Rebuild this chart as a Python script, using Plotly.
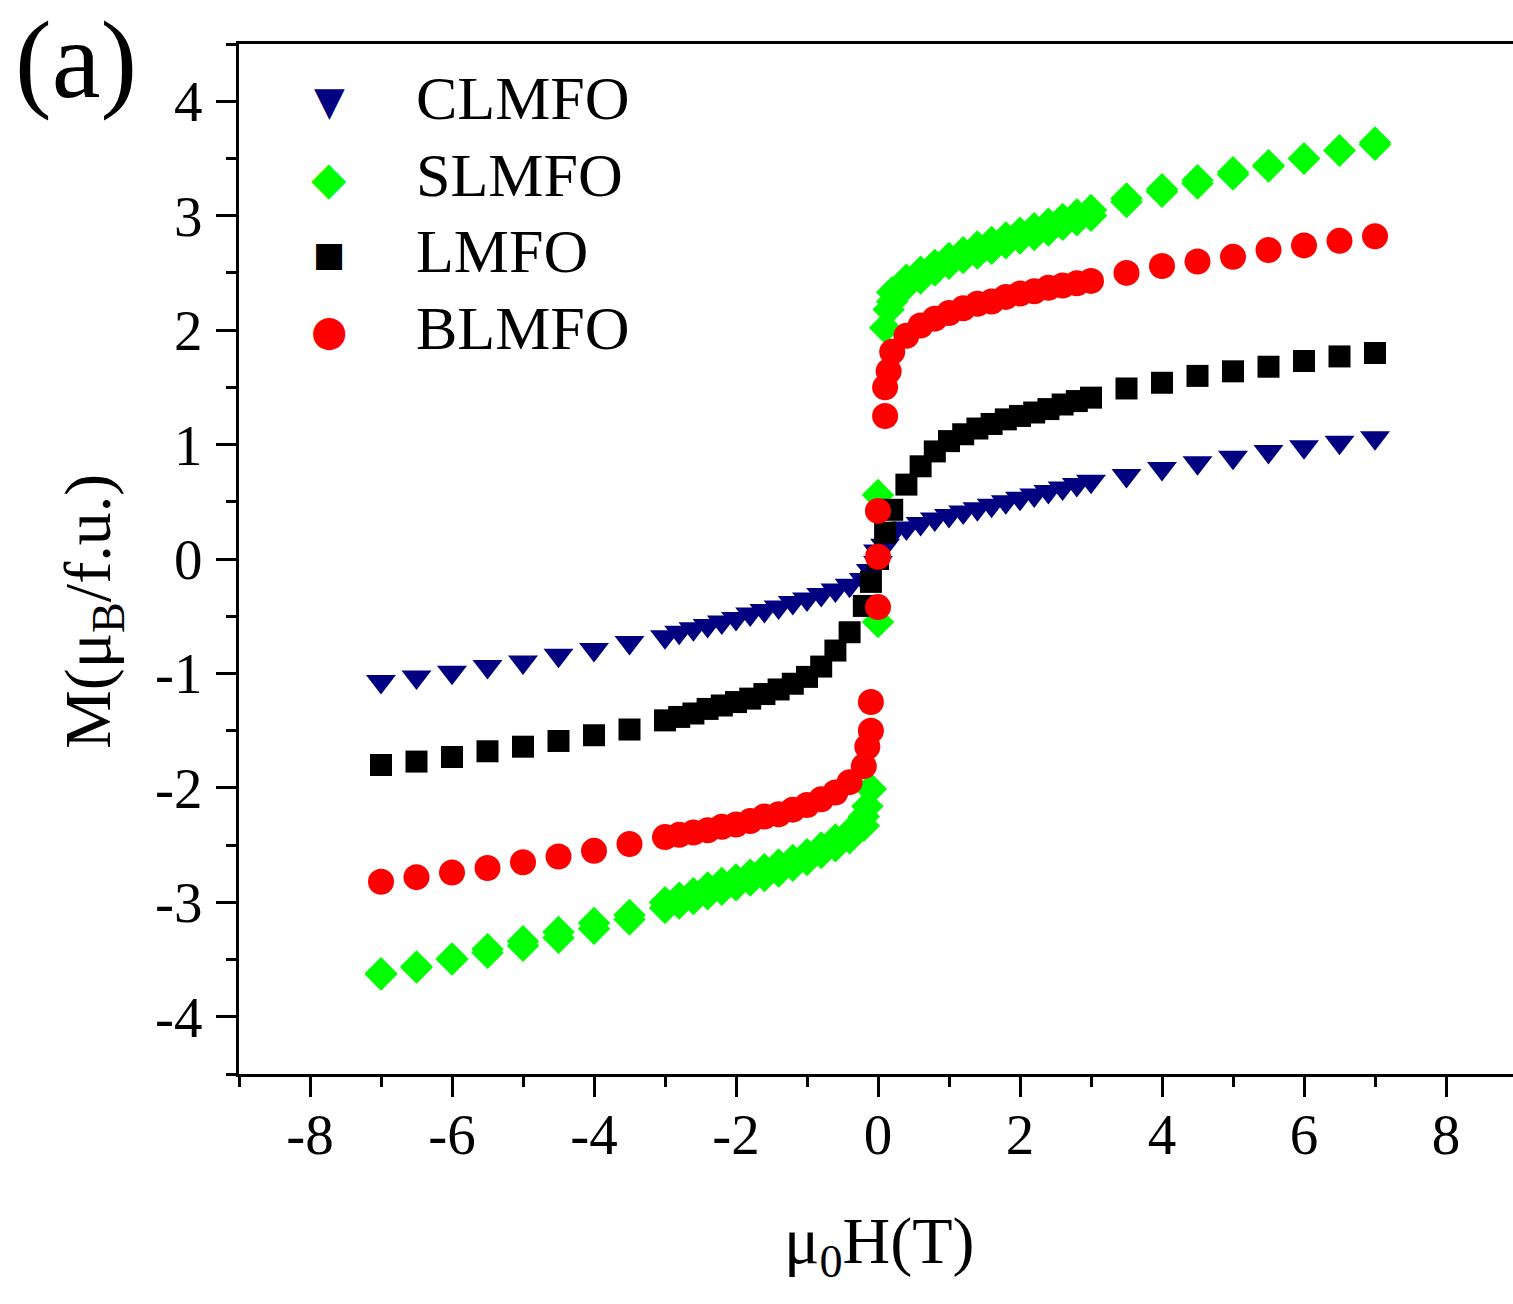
import plotly.graph_objects as go

# Applied field grids (T)
field_neg = [-7.0, -6.5, -6.0, -5.5, -5.0, -4.5, -4.0, -3.5,
             -3.0, -2.8, -2.6, -2.4, -2.2, -2.0, -1.8, -1.6, -1.4, -1.2,
             -1.0, -0.8, -0.6, -0.4, -0.2]
field_pos = [0.2, 0.4, 0.6, 0.8, 1.0, 1.2, 1.4, 1.6, 1.8, 2.0, 2.2, 2.4,
             2.6, 2.8, 3.0, 3.5, 4.0, 4.5, 5.0, 5.5, 6.0, 6.5, 7.0]

# CLMFO
clmfo_neg = [-1.07, -1.03, -0.99, -0.94, -0.90, -0.84, -0.79, -0.73,
             -0.68, -0.64, -0.61, -0.58, -0.55, -0.52, -0.48, -0.45, -0.42, -0.38,
             -0.35, -0.31, -0.27, -0.23, -0.18]
clmfo_pos = [0.22, 0.27, 0.31, 0.35, 0.38, 0.41, 0.44, 0.47, 0.50, 0.53, 0.56, 0.59,
             0.62, 0.65, 0.68, 0.73, 0.79, 0.84, 0.89, 0.94, 0.98, 1.02, 1.06]
clmfo_h0 = [-0.1, 0.0, 0.0, 0.1]
clmfo_m0 = [-0.10, -0.03, 0.07, 0.12]

# SLMFO (two sweep branches)
slmfo_neg_a = [-3.63, -3.56, -3.49, -3.41, -3.34, -3.26, -3.18, -3.11,
               -3.00, -2.96, -2.92, -2.87, -2.83, -2.80, -2.76, -2.71, -2.67, -2.63,
               -2.58, -2.52, -2.45, -2.39, -2.25]
slmfo_pos_a = [2.25, 2.39, 2.45, 2.52, 2.58, 2.63, 2.67, 2.71, 2.76, 2.80, 2.83, 2.87,
               2.92, 2.96, 3.00, 3.12, 3.21, 3.28, 3.36, 3.43, 3.50, 3.57, 3.64]
slmfo_neg_b = [-3.62, -3.57, -3.50, -3.44, -3.38, -3.31, -3.23, -3.15,
               -3.05, -3.01, -2.97, -2.93, -2.89, -2.85, -2.81, -2.77, -2.73, -2.68,
               -2.63, -2.57, -2.51, -2.44, -2.33]
slmfo_pos_b = [2.33, 2.44, 2.51, 2.57, 2.63, 2.68, 2.73, 2.77, 2.81, 2.85, 2.89, 2.93,
               2.97, 3.01, 3.05, 3.15, 3.23, 3.31, 3.38, 3.44, 3.50, 3.57, 3.62]
slmfo_h0 = [-0.15, -0.1, 0.0, 0.0, 0.1, 0.15]
slmfo_m0 = [-2.16, -2.01, -0.55, 0.56, 2.02, 2.18]

# LMFO
lmfo_neg = [-1.80, -1.77, -1.73, -1.68, -1.64, -1.59, -1.54, -1.49,
            -1.41, -1.38, -1.35, -1.31, -1.28, -1.25, -1.22, -1.18, -1.14, -1.09,
            -1.03, -0.94, -0.80, -0.64, -0.41]
lmfo_pos = [0.43, 0.65, 0.81, 0.94, 1.03, 1.09, 1.14, 1.18, 1.22, 1.25, 1.28, 1.31,
            1.35, 1.38, 1.41, 1.49, 1.54, 1.60, 1.64, 1.68, 1.73, 1.77, 1.80]
lmfo_h0 = [-0.1, 0.0, 0.1]
lmfo_m0 = [-0.20, 0.0, 0.23]

# BLMFO
blmfo_neg = [-2.82, -2.78, -2.74, -2.70, -2.65, -2.60, -2.55, -2.49,
             -2.43, -2.41, -2.39, -2.37, -2.34, -2.32, -2.29, -2.25, -2.23, -2.19,
             -2.15, -2.10, -2.04, -1.95, -1.81]
blmfo_pos = [1.81, 1.95, 2.04, 2.10, 2.15, 2.19, 2.23, 2.25, 2.29, 2.32, 2.34, 2.37,
             2.39, 2.41, 2.43, 2.50, 2.56, 2.60, 2.64, 2.70, 2.74, 2.78, 2.82]
blmfo_h0 = [-0.15, -0.1, -0.1, 0.0, 0.0, 0.0, 0.1, 0.1, 0.15]
blmfo_m0 = [-1.64, -1.50, -1.25, -0.42, 0.02, 0.42, 1.25, 1.50, 1.64]

x_tick_vals = [-8, -6, -4, -2, 0, 2, 4, 6, 8]
x_tick_text = ["-8", "-6", "-4", "-2", "0", "2", "4", "6", "8"]
y_tick_vals = [-4, -3, -2, -1, 0, 1, 2, 3, 4]
y_tick_text = ["-4", "-3", "-2", "-1", "0", "1", "2", "3", "4"]

series_names = ["CLMFO", "SLMFO", "LMFO", "BLMFO"]
series_colors = ["#000080", "#00ff00", "#000000", "#ff0000"]
series_symbols = ["triangle-down", "diamond", "square", "circle"]
series_sizes = [26, 25, 22, 26]
legend_glyphs = ["\u25BC", "\u25C6", "\u25A0", "\u25CF"]
legend_glyph_sizes = [40, 46, 34, 42]

series_x = [
    field_neg + clmfo_h0 + field_pos,
    field_neg + slmfo_h0 + field_pos + field_neg + field_pos,
    field_neg + lmfo_h0 + field_pos,
    field_neg + blmfo_h0 + field_pos,
]
series_y = [
    clmfo_neg + clmfo_m0 + clmfo_pos,
    slmfo_neg_a + slmfo_m0 + slmfo_pos_a + slmfo_neg_b + slmfo_pos_b,
    lmfo_neg + lmfo_m0 + lmfo_pos,
    blmfo_neg + blmfo_m0 + blmfo_pos,
]

W, H = 1513, 1304
L, R, T, B = 239, 0, 44, 230
PW, PH = W - L - R, H - T - B

SERIF = "Liberation Serif, Times New Roman, serif"

fig = go.Figure()
for name, xs, ys, col, sym, sz in zip(series_names, series_x, series_y,
                                      series_colors, series_symbols, series_sizes):
    fig.add_trace(go.Scatter(
        x=xs, y=ys, mode="markers", name=name, showlegend=False,
        marker=dict(symbol=sym, size=sz, color=col, line=dict(width=0)),
    ))


def px_to_paper(px, py):
    return (px - L) / PW, (H - B - py) / PH


annotations = []
# legend built from glyph + label text
legend_rows = [101, 178, 254, 331]
for glyph, gsz, col, name, row in zip(legend_glyphs, legend_glyph_sizes,
                                      series_colors, series_names, legend_rows):
    gx, gy = px_to_paper(329, row)
    annotations.append(dict(
        x=gx, y=gy, xref="paper", yref="paper", text=glyph, showarrow=False,
        xanchor="center", yanchor="middle",
        font=dict(family="DejaVu Sans", size=gsz, color=col),
    ))
    tx, ty = px_to_paper(414, row - 3)
    annotations.append(dict(
        x=tx, y=ty, xref="paper", yref="paper", text=name, showarrow=False,
        xanchor="left", yanchor="middle",
        font=dict(family=SERIF, size=62, color="black"),
    ))

# panel tag
ax_, ay_ = px_to_paper(76, 60)
annotations.append(dict(
    x=ax_, y=ay_, xref="paper", yref="paper", text="(a)", showarrow=False,
    xanchor="center", yanchor="middle",
    font=dict(family=SERIF, size=110, color="black"),
))

# axis titles
xt, yt = px_to_paper(879, 1245)
annotations.append(dict(
    x=xt, y=yt, xref="paper", yref="paper", text="\u03bc<sub>0</sub>H(T)",
    showarrow=False, xanchor="center", yanchor="middle",
    font=dict(family=SERIF, size=66, color="black"),
))
xt, yt = px_to_paper(92, 612)
annotations.append(dict(
    x=xt, y=yt, xref="paper", yref="paper", text="M(\u03bc<sub>B</sub>/f.u.)",
    showarrow=False, xanchor="center", yanchor="middle", textangle=-90,
    font=dict(family=SERIF, size=66, color="black"),
))

fig.update_layout(
    width=W, height=H,
    margin=dict(l=L, r=R, t=T, b=B, pad=0),
    paper_bgcolor="white", plot_bgcolor="white",
    showlegend=False,
    annotations=annotations,
    xaxis=dict(
        range=[-9, -9 + PW / 71.0], showgrid=False, zeroline=False,
        showline=True, linecolor="black", linewidth=3, mirror=True,
        ticks="outside", ticklen=20, tickwidth=3, tickcolor="black",
        tickvals=x_tick_vals, ticktext=x_tick_text,
        tickfont=dict(family=SERIF, size=57, color="black"),
        ticklabelstandoff=-11,
        minor=dict(dtick=1, tick0=0, ticks="outside", ticklen=10, tickwidth=3,
                   tickcolor="black", showgrid=False),
    ),
    yaxis=dict(
        range=[-4.5, 4.5], showgrid=False, zeroline=False,
        showline=True, linecolor="black", linewidth=3, mirror=False,
        ticks="outside", ticklen=20, tickwidth=3, tickcolor="black",
        tickvals=y_tick_vals, ticktext=y_tick_text,
        tickfont=dict(family=SERIF, size=57, color="black"),
        ticklabelstandoff=2,
        minor=dict(dtick=0.5, tick0=0, ticks="outside", ticklen=10, tickwidth=3,
                   tickcolor="black", showgrid=False),
    ),
)

fig.write_html("out.html")
